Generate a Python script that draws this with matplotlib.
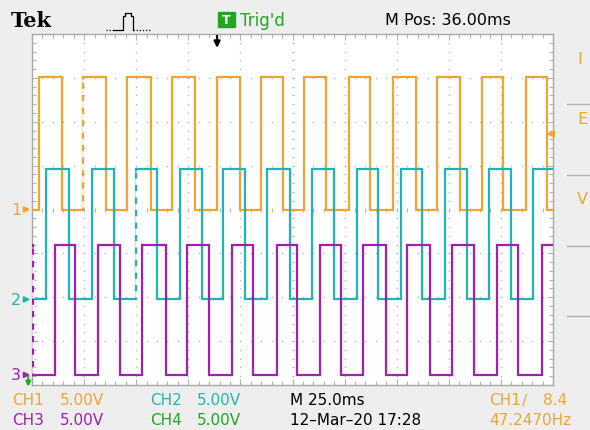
"""Tektronix scope capture: three phase-shifted square waves."""
import numpy as np
import matplotlib
matplotlib.use("Agg")
import matplotlib.pyplot as plt

plt.rcParams.update({"font.family": ["DejaVu Sans"], "font.size": 11})

W, H = 590, 431
ORANGE = "#f0a532"
TEAL = "#22b4b4"
PURPLE = "#a21fb2"
GREEN = "#22a522"
GRID = "#b4b4b4"

# time in ms (25 ms/div, 10 div), levels in divisions
ch1_rise = [3.5, 24.6, 45.7, 67.0, 88.6, 109.9, 130.5, 152.2, 173.1, 194.2, 215.8, 237.0]
ch1_fall = [14.5, 35.5, 57.0, 78.2, 99.8, 120.6, 141.1, 162.2, 184.2, 205.3, 226.1, 247.0]
ch1_lo, ch1_hi = 0.0, 3.02

ch2_rise = [6.7, 28.8, 49.9, 71.0, 91.8, 112.9, 134.2, 155.8, 176.9, 198.2, 219.3, 240.5]
ch2_fall = [17.9, 39.3, 60.1, 81.4, 102.2, 123.8, 145.0, 166.2, 187.3, 208.6, 229.7]
ch2_lo, ch2_hi = -2.05, 0.92

ch3_rise = [11.0, 31.8, 52.6, 74.2, 95.8, 117.4, 138.2, 159.0, 180.1, 201.4, 223.0, 244.6]
ch3_fall = [0.3, 20.6, 42.2, 64.2, 85.1, 106.2, 127.0, 148.1, 169.7, 191.0, 212.1, 233.3]
ch3_lo, ch3_hi = -3.77, -0.80

trig_time = 88.8     # trigger position marker
trig_level = 1.72    # CH1 trigger level marker

fig = plt.figure(figsize=(W / 100, H / 100), dpi=100, facecolor="#eeeeee")


def fx(x):
    return x / W


def fy(y):
    return 1 - y / H


ax = fig.add_axes([fx(32), fy(386), 521 / W, 351 / H], facecolor="white")
ax.set_xlim(0, 250)
ax.set_ylim(-4, 4)
for s in ax.spines.values():
    s.set_color("#a8a8a8")
    s.set_linewidth(1.0)
ax.set_xticks(np.arange(0, 251, 25))
ax.set_xticks(np.arange(0, 251, 5), minor=True)
ax.set_yticks(np.arange(-4, 4.1, 1))
ax.set_yticks(np.arange(-4, 4.1, 0.2), minor=True)
ax.tick_params(which="both", direction="in", top=True, right=True,
               labelbottom=False, labelleft=False, color=GRID)
ax.tick_params(which="major", length=4, width=0.8)
ax.tick_params(which="minor", length=3, width=0.8)

# dotted graticule
xs_minor = np.arange(0, 251, 5)
ys_minor = np.arange(-4, 4.01, 0.2)
for gx in np.arange(25, 250, 25):
    ax.scatter(np.full_like(ys_minor, gx), ys_minor, s=1.2, color=GRID, lw=0, zorder=1)
for gy in np.arange(-3, 4, 1):
    ax.scatter(xs_minor, np.full_like(xs_minor, gy, dtype=float), s=1.2, color=GRID, lw=0, zorder=1)
ax.scatter(xs_minor, np.zeros_like(xs_minor, dtype=float), marker="|", s=5, color=GRID, lw=0.7, zorder=1)
ax.scatter(np.full_like(ys_minor, 125), ys_minor, marker="_", s=4, color=GRID, lw=0.7, zorder=1)


def trace(rise, fall, lo, hi, start, color, dashed=()):
    edges = sorted([(t, hi) for t in rise] + [(t, lo) for t in fall])
    t = [0] + [e[0] for e in edges] + [250]
    v = [start] + [e[1] for e in edges] + [edges[-1][1]]
    ax.plot(t, v, drawstyle="steps-post", color=color, lw=1.6, zorder=3,
            solid_joinstyle="miter")
    for d in dashed:
        ax.vlines(d, lo + 0.05, hi - 0.05, color="white", lw=1.8,
                  linestyles=(0, (2.5, 2.5)), zorder=4)


trace(ch1_rise, ch1_fall, ch1_lo, ch1_hi, ch1_lo, ORANGE, dashed=[ch1_rise[1]])
trace(ch2_rise, ch2_fall, ch2_lo, ch2_hi, ch2_lo, TEAL, dashed=[ch2_rise[2]])
trace(ch3_rise, ch3_fall, ch3_lo, ch3_hi, ch3_hi, PURPLE, dashed=[ch3_fall[0]])

# trigger markers
ax.annotate("", xy=(trig_time, 3.62), xytext=(trig_time, 4.02),
            arrowprops=dict(arrowstyle="-|>", color="black", lw=1.6,
                            mutation_scale=9), annotation_clip=False, zorder=6)
ax.annotate("", xy=(245.5, trig_level), xytext=(251, trig_level),
            arrowprops=dict(arrowstyle="-|>", color=ORANGE, lw=1.6,
                            mutation_scale=9), annotation_clip=False, zorder=6)

# channel ground markers on the left
for lbl, lvl, col in [("1", ch1_lo, ORANGE), ("2", ch2_lo, TEAL), ("3", ch3_lo, PURPLE)]:
    ax.annotate("", xy=(0.5, lvl), xytext=(-4.5, lvl),
                arrowprops=dict(arrowstyle="-|>", color=col, lw=1.4,
                                mutation_scale=8), annotation_clip=False)
    ax.text(-5.2, lvl, lbl, color=col, fontsize=11.5, ha="right", va="center",
            clip_on=False)
ax.annotate("", xy=(-1.8, -4.1), xytext=(-1.8, -3.75),
            arrowprops=dict(arrowstyle="-|>", color=GREEN, lw=1.4,
                            mutation_scale=7), annotation_clip=False)

# top status bar
fig.text(fx(11), fy(21), "Tek", family="DejaVu Serif", weight="bold",
         fontsize=15, va="center", ha="left")
icon_x = [114, 123, 123, 125, 125, 131, 131, 133, 133]
icon_y = [31, 31, 17, 17, 14, 14, 17, 17, 31]
fig.add_artist(plt.Line2D([fx(v) for v in icon_x], [fy(v) for v in icon_y],
                          color="black", lw=0.9))
fig.add_artist(plt.Line2D([fx(133), fx(150)], [fy(31), fy(31)], color="black",
                          lw=0.9, ls=(0, (1, 1.5))))
fig.add_artist(plt.Line2D([fx(106), fx(114)], [fy(31), fy(31)], color="black",
                          lw=0.9, ls=(0, (1, 1.5))))
fig.add_artist(plt.Rectangle((fx(218), fy(28)), 17 / W, 15 / H, color=GREEN))
fig.text(fx(226.5), fy(20.5), "T", color="white", fontsize=9, weight="bold",
         ha="center", va="center")
fig.text(fx(240), fy(20.5), "Trig'd", color=GREEN, fontsize=12, va="center")
fig.text(fx(385), fy(20.5), "M Pos: 36.00ms", color="black", fontsize=11.5, va="center")

# right menu stub
for yy in [105, 176, 247, 317]:
    fig.add_artist(plt.Line2D([fx(567), fx(590)], [fy(yy), fy(yy)],
                              color="#b0b0b0", lw=1))
for txt, yy in [("I", 60), ("E", 120), ("V", 200)]:
    fig.text(fx(577), fy(yy), txt, color=ORANGE, fontsize=11.5, va="center")

# bottom readouts
row1, row2 = 401, 421
items = [
    ("CH1", 12, row1, ORANGE), ("5.00V", 60, row1, ORANGE),
    ("CH2", 150, row1, TEAL), ("5.00V", 197, row1, TEAL),
    ("M 25.0ms", 290, row1, "black"),
    ("CH1", 489, row1, ORANGE), ("\u2215", 522, row1, ORANGE), ("8.4", 543, row1, ORANGE),
    ("CH3", 12, row2, PURPLE), ("5.00V", 60, row2, PURPLE),
    ("CH4", 150, row2, GREEN), ("5.00V", 197, row2, GREEN),
    ("12\u2013Mar\u201320 17:28", 290, row2, "black"),
    ("47.2470Hz", 489, row2, ORANGE),
]
for txt, x, y, col in items:
    fig.text(fx(x), fy(y), txt, color=col, fontsize=11, va="center", ha="left")

fig.savefig("out.png", dpi=100, facecolor=fig.get_facecolor())
